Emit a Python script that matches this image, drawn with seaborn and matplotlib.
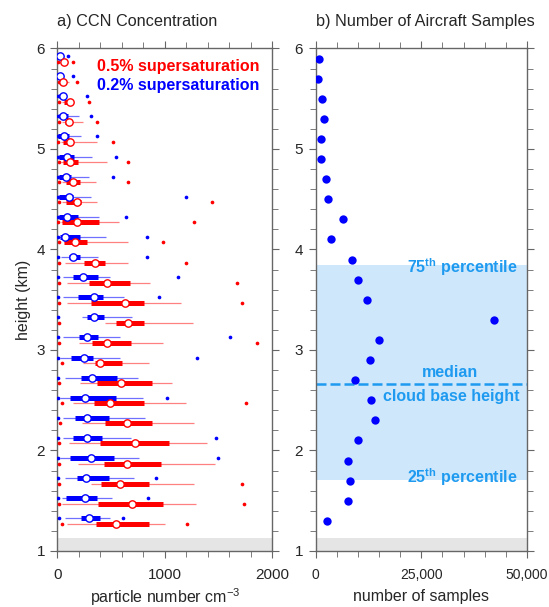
import numpy as np
import matplotlib
matplotlib.use("Agg")
import matplotlib.pyplot as plt
from matplotlib.ticker import MultipleLocator, FuncFormatter
import seaborn as sns

# height levels (km), bottom to top
levels = [1.3, 1.5, 1.7, 1.9, 2.1, 2.3, 2.5, 2.7, 2.9, 3.1, 3.3, 3.5,
          3.7, 3.9, 4.1, 4.3, 4.5, 4.7, 4.9, 5.1, 5.3, 5.5, 5.7, 5.9]

# 0.2% supersaturation (blue)
b_min = [10, 8, 8, 8, 8, 8, 8, 8, 8, 8, 8, 8, 8, 8, 8, 8, 8, 8, 8, 8, 6, 6, 6, 6]
b_lo = [73, 42, 67, 25, 54, 54, 20, 73, 20, 54, 225, 48, 51, 36, 15, 12, 10, 10, 8, 8, 8, 8, 8, 8]
b_q1 = [220, 79, 178, 116, 141, 160, 116, 222, 129, 203, 278, 194, 144, 104, 23, 14, 14, 14, 11, 8, 10, 12, 8, 8]
b_med = [296, 256, 265, 309, 271, 278, 253, 318, 246, 278, 339, 336, 240, 147, 70, 91, 104, 79, 88, 57, 55, 55, 26, 26]
b_q3 = [400, 364, 479, 522, 411, 479, 541, 556, 331, 378, 433, 426, 377, 212, 212, 191, 144, 129, 153, 110, 100, 70, 35, 30]
b_hi = [485, 507, 711, 758, 680, 811, 792, 752, 578, 578, 697, 619, 485, 377, 454, 383, 315, 293, 318, 215, 200, 80, 40, 35]
b_max = [612, 842, 913, 1490, 1475, np.nan, 1021, np.nan, 1294, 1604, np.nan, 944,
         1119, 832, 836, 640, 1192, 519, 547, 364, 316, 270, 148, 102]

# 0.5% supersaturation (red)
r_min = [42, 14, 11, 11, 11, 20, 42, 14, 39, 11, 11, 11, 11, 11, 11, 8, 11, 11, 11, 8, 11, 11, 11, 8]
r_lo = [88, 42, 309, 195, 104, 231, 144, 212, 237, 197, 445, 91, 88, 67, 60, 30, 40, 40, 30, 30, 40, 40, 20, 30]
r_q1 = [355, 377, 408, 433, 399, 442, 343, 364, 346, 321, 547, 313, 291, 246, 64, 42, 82, 82, 48, 51, 70, 60, 35, 40]
r_med = [544, 690, 584, 651, 721, 646, 485, 590, 392, 464, 656, 631, 460, 346, 160, 181, 178, 147, 119, 113, 110, 118, 50, 62]
r_q3 = [855, 978, 851, 966, 1035, 876, 801, 882, 600, 681, 801, 801, 674, 445, 271, 383, 222, 206, 191, 140, 120, 130, 60, 70]
r_hi = [997, 1288, 1266, 1470, 1390, 1268, 1195, 1068, 854, 978, 1257, 1147, 862, 656, 653, 569, 370, 355, 460, 365, 238, 150, 110, 80]
r_max = [1204, 1738, 1716, np.nan, np.nan, np.nan, 1756, np.nan, np.nan, 1858, np.nan, 1713,
         1673, 1198, 981, 1266, 1437, 656, 657, 516, 370, 297, 180, 142]

# number of aircraft samples per level
n_samples = [2760, 7670, 8130, 7750, 10000, 14050, 13200, 9300, 12800, 14900, 42300, 12260,
             10000, 8600, 3780, 6420, 2850, 2380, 1210, 1360, 1990, 1600, 660, 818]

cloud_p25 = 1.71
cloud_median = 2.66
cloud_p75 = 3.85

sns.set_style("ticks")
plt.rcParams["font.family"] = ["Liberation Sans", "DejaVu Sans"]
plt.rcParams["mathtext.fontset"] = "custom"
plt.rcParams["mathtext.rm"] = "Liberation Sans"
plt.rcParams["mathtext.bf"] = "Liberation Sans:bold"

RED = "#ff0000"
BLUE = "#0000ff"
SKY = "#1e9bf0"

fig = plt.figure(figsize=(5.49, 6.07), dpi=100)
ax1 = fig.add_axes([0.1047, 0.0923, 0.3916, 0.8278])
ax2 = fig.add_axes([0.5747, 0.0923, 0.3852, 0.8278])


def draw_boxes(ax, y, mn, lo, q1, med, q3, hi, mx, color, light):
    ax.hlines(y, lo, hi, color=light, lw=0.9, zorder=2)
    ax.hlines(y, q1, q3, color=color, lw=3.6, zorder=3)
    sns.scatterplot(x=mn, y=y, ax=ax, color=color, s=7, linewidth=0, zorder=4, legend=False)
    sns.scatterplot(x=mx, y=y, ax=ax, color=color, s=7, linewidth=0, zorder=4, legend=False)
    sns.scatterplot(x=med, y=y, ax=ax, color="white", edgecolor=color, s=28,
                    linewidth=1.0, zorder=5, legend=False)


yb = np.array(levels) + 0.025
yr = np.array(levels) - 0.03
draw_boxes(ax1, yb, b_min, b_lo, b_q1, b_med, b_q3, b_hi, b_max, BLUE, "#7070ff")
draw_boxes(ax1, yr, r_min, r_lo, r_q1, r_med, r_q3, r_hi, r_max, RED, "#ff8080")

ax1.text(1880, 5.82, "0.5% supersaturation", ha="right", va="center",
         color=RED, fontweight="bold", fontsize=11.5)
ax1.text(1880, 5.63, "0.2% supersaturation", ha="right", va="center",
         color=BLUE, fontweight="bold", fontsize=11.5)

# b) sample counts
ax2.axhspan(cloud_p25, cloud_p75, color="#cfe7fb", lw=0, zorder=0)
ax2.axhline(cloud_median, color=SKY, lw=1.8, dashes=(4, 1.6), zorder=1)
sns.scatterplot(x=n_samples, y=levels, ax=ax2, color=BLUE, s=36, linewidth=0, zorder=4, legend=False)

ax2.text(47700, cloud_p75 - 0.03, r"75$^{\mathbf{th}}$ percentile", ha="right", va="center",
         color=SKY, fontweight="bold", fontsize=11.5)
ax2.text(47700, cloud_p25 + 0.02, r"25$^{\mathbf{th}}$ percentile", ha="right", va="center",
         color=SKY, fontweight="bold", fontsize=11.5)
ax2.text(31800, 2.78, "median", ha="center", va="center",
         color=SKY, fontweight="bold", fontsize=11.5)
ax2.text(32200, 2.54, "cloud base height", ha="center", va="center",
         color=SKY, fontweight="bold", fontsize=11.5)

for ax in (ax1, ax2):
    ax.axhspan(1.0, 1.13, color="#e5e5e5", lw=0, zorder=0)
    ax.set_ylim(1, 6)
    ax.yaxis.set_major_locator(MultipleLocator(1))
    ax.yaxis.set_minor_locator(MultipleLocator(0.2))
    ax.tick_params(which="both", direction="out", top=True, right=True,
                   color="#666666", labelsize=11, pad=4)
    ax.tick_params(axis="x", which="both", pad=7)
    ax.tick_params(which="major", length=5)
    ax.tick_params(which="minor", length=4)
    for sp in ax.spines.values():
        sp.set_color("#666666")
        sp.set_linewidth(1)
    ax.set_ylabel("")
    ax.set_xlabel("")

ax1.set_xlim(0, 2000)
ax1.xaxis.set_major_locator(MultipleLocator(1000))
ax1.xaxis.set_minor_locator(MultipleLocator(200))
ax2.set_xlim(0, 50000)
ax2.xaxis.set_major_locator(MultipleLocator(25000))
ax2.xaxis.set_minor_locator(MultipleLocator(5000))
ax2.xaxis.set_major_formatter(FuncFormatter(lambda v, p: f"{int(v):,}"))
ax2.tick_params(axis="x", labelsize=10)

ax1.set_title("a) CCN Concentration", loc="left", fontsize=11.7, pad=16)
ax2.set_title("b) Number of Aircraft Samples", loc="left", fontsize=11.7, pad=16)
ax1.set_xlabel("particle number cm$^{-3}$", fontsize=11.5, labelpad=3)
ax2.set_xlabel("number of samples", fontsize=11.5, labelpad=5)
ax1.set_ylabel("height (km)", fontsize=11.5)

fig.savefig("out.png", dpi=100)
